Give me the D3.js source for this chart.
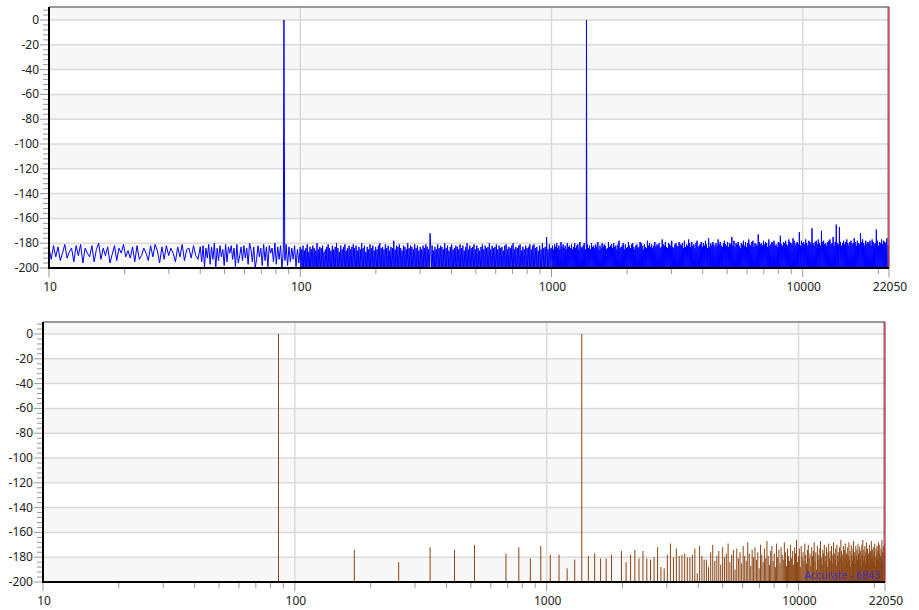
<!DOCTYPE html>
<html>
<head>
<meta charset="utf-8">
<script src="https://cdn.jsdelivr.net/npm/d3@7"></script>
<style>
  body { margin: 0; background: #fff; }
  svg { display: block; font-family: "Noto Sans", "Open Sans", sans-serif; }
</style>
</head>
<body>
<svg id="chart" width="919" height="610"></svg>
<script>
// ---- data ----
const yTickValues = [0, -20, -40, -60, -80, -100, -120, -140, -160, -180, -200];
const xTickLabels = [10, 100, 1000, 10000, 22050];
const freqRange = [10, 22050];

// the two test tones (Hz, dB)
const toneFreqs = [86.13, 1378.1];
const toneDb = [0, 0];

// noise floor of the top spectrum, one char per point, dB = -210 + index in levelChars
const levelChars = "0123456789abcdefghijklmnopqrstuvwxyzABCDEFGHIJKLMNOPQRSTUVWXYZ";
const noiseSegments = [
  { from: 10, to: 40, levels: "qhsjrgmtinqfskteqmjsfpuhqkrelsgqmtjoirfshkqmgsjtoerhskqmfrjtgpqiskh" },
  { from: 40, to: 100, levels: "rfsbqitdrhuaqgsjpctfrmshqbtekrgsiqdupfrahsjqctgrbsmqfudrhsaqitcrfqhsbpe" },
  { from: 100, to: 1000, levels:
    "r8p5s9o3q7t6n4r9p2s8q5o7u3p6r4q9s2n8p5r7" +
    "t3q6o9s4p7r2u8q5n3s6p9r4t7o2q8s5p3r6t9q4" +
    "s7o5r2p8u4q6s3n9r5p7t2q4s8o6r3p9s5u7q2r6" +
    "p4t8q3s6o9r5q7w2p4s8r3t6q9o5s2r7p4u8q6s3" +
    "r9p5t2q7s4o8r3p6s9q2t5r7p3Cq8s4o6r2p9t5q" +
    "7s3r6p8u2q4s9o5r7t3p6q8s2r5p9t4q7s3o6r8u" +
    "2p5s9q4r7t3p8s6q2o5r9t7p3s4q8r6u2p5s9q3r" +
    "7t4p6s2q8r5o9s3t7p4r6q2s8u5p9r3q7s4t6o2r" +
    "8p5s3q9r4t6p2s7t5q8r3o6s9p4u7q2r5z8p3t6q" },
  { from: 1000, to: 22050, levels:
    "q5s8p3t6r9u2q7s4p8v3r6t2q9s5p7u4r3s8q6t2" +
    "p9r5u7q3s6t8p2v5r4q9s7u3p6r8t2q5s9p4u7r3" +
    "s6q8t2r5v9p3s7q4u6r2t8s5p9q3v6r7s2t4q8u5" +
    "r3s9p6t2w7q4r8s5u3p9t6q2r7v4s8q5t3u9r6p2" +
    "s7t4q9r3v5u8s2p6t9r4q7w3s5u8r2t6q9s4v7r3" +
    "t5s8u2q6r9x4t3s7v5r8q2u6t9s4w3r7q5t8u2s6" +
    "r9v4t3s7u6q8w2r5t9s4x7u3r6v8s2t5q9u4w7r3" +
    "s6t8v2r5u9s3w7t4q6y8r2u5s9v3t7r4u6s8x2t5" +
    "v9s3r7u4w6t2s8v5r9u3t6z4s7w2r5u8t3v9s6q4" +
    "u7t2w5s8v3r6u9x4t7s2v6w8r3u5t9s4B7v2t6u3" +
    "s8w5t9v2u6r4x8s3t7v5u2w9s6t4r8v3u7A5t2s9" +
    "v6u3w8t5s9x2v7u4t6y3w9s5u8v2t4D7s6w3u9v5" +
    "t2x8u6s4w9v3t7G5u2s8v6w4t9x3u7s5E2v8w6t3" +
    "u9s5v7w2x4t8u6z3s9v5J7u2t4H6v8s3u5w9t7v2" +
    "x6u4s8v3w9t5u2y7v4s6w8u3t9C5v2x7u4s8w6t3" +
    "v9u5w2s7x4v8t3u6F9w5s2v7u4x8t6w3v9u5y2s7" }
];

// bottom spectrum: level of each harmonic of the base tone, n = 1..256 (null = below floor)
const harmonicBase = 86.13;
const harmonicDb = [
  0, -174, -184, -172, -174, -170, null, -177, -172, -181,
  -171, -178, -178, -189, -182, 0, -179, -177, -181, -181,
  -178, null, -175, -184, -178, -174, -181, -175, -181, -182,
  -180, -172, -188, -189, -178, -169, -180, -173, -179, -178,
  -177, -180, -180, -178, -173, -193, -171, -179, -182,
  -182, -188, -176, -170, -183, -179, -175, -186, -172, -180,
  -177, -169, -184, -178, -174, -190, -173, -181, -176, -185,
  -171, -179, -183, -168, -177, -187, -174, -180, -172, -182,
  -176, -189, -170, -178, -184, -173, -181, -167, -179, -186,
  -175, -171, -183, -177, -188, -169, -180, -174, -185, -172,
  -178, -182, -168, -176, -187, -173, -179, -183, -170, -181,
  -175, -186, -172, -177, -166, -184, -179, -173, -188, -171,
  -180, -176, -183, -169, -178, -185, -174, -170, -181, -177,
  -187, -172, -179, -175, -168, -183, -176, -190, -171, -178,
  -182, -173, -167, -180, -186, -174, -177, -170, -184, -179,
  -172, -188, -176, -169, -181, -175, -183, -171, -178, -185,
  -168, -177, -182, -173, -187, -170, -179, -176, -184, -172,
  -180, -166, -175, -183, -178, -171, -186, -174, -169, -181,
  -177, -184, -172, -179, -168, -182, -175, -188, -170, -178,
  -183, -173, -167, -180, -176, -185, -171, -179, -174, -182,
  -169, -177, -184, -172, -181, -175, -187, -170, -178, -166,
  -183, -174, -179, -171, -185, -176, -168, -182, -173, -180,
  -177, -186, -170, -178, -175, -183, -167, -181, -174, -179,
  -172, -184, -176, -169, -180, -187, -173, -178, -171, -182,
  -175, -168, -183, -177, -170, -185, -179, -173, -181, -166,
  -176, -184, -171, -178, -174, -169, -180
];
const statusText = "Accurate - 6843";

// ---- build the top series ----
let topSeries = [];
noiseSegments.forEach(seg => {
  const n = seg.levels.length;
  const fAt = d3.scaleLinear().domain([0, n]).range([Math.log10(seg.from), Math.log10(seg.to)]);
  for (let i = 0; i < n; i++) {
    topSeries.push({ f: Math.pow(10, fAt(i)), db: -210 + levelChars.indexOf(seg.levels[i]) });
  }
});
toneFreqs.forEach((f, i) => {
  topSeries.push({ f: f - 0.01 * f, db: -192 });
  topSeries.push({ f: f, db: toneDb[i] });
  topSeries.push({ f: f + 0.01 * f, db: -194 });
});
topSeries.sort((a, b) => a.f - b.f);

const bars = harmonicDb
  .map((db, i) => ({ f: harmonicBase * (i + 1), db: db }))
  .filter(d => d.db !== null && d.f <= 22050);

const svg = d3.select("#chart");

function drawPanel(box, id) {
  const g = svg.append("g");
  const x = d3.scaleLog().domain(freqRange).range([box.left, box.right]);
  const y = d3.scaleLinear().domain([-200, box.yMax]).range([box.bottom, box.top]);

  // interlaced background bands
  const bandEdges = [box.yMax].concat(yTickValues);
  for (let i = 0; i < bandEdges.length - 1; i++) {
    g.append("rect")
      .attr("x", box.left).attr("width", box.right - box.left)
      .attr("y", y(bandEdges[i])).attr("height", y(bandEdges[i + 1]) - y(bandEdges[i]))
      .attr("fill", i % 2 === 0 ? "#f7f7f7" : "#ffffff");
  }

  // grid
  g.selectAll(".hgrid").data(yTickValues.slice(0, -1)).enter().append("line")
    .attr("x1", box.left).attr("x2", box.right)
    .attr("y1", d => y(d)).attr("y2", d => y(d))
    .attr("stroke", "#dadada").attr("stroke-width", 1.5);
  g.selectAll(".vgrid").data([100, 1000, 10000]).enter().append("line")
    .attr("x1", d => x(d)).attr("x2", d => x(d))
    .attr("y1", box.top).attr("y2", box.bottom)
    .attr("stroke", "#dadada").attr("stroke-width", 1.5);

  svg.append("clipPath").attr("id", "clip" + id).append("rect")
    .attr("x", box.left).attr("y", box.top)
    .attr("width", box.right - box.left).attr("height", box.bottom - box.top);

  // y ticks, minor every 4 dB
  const minorY = d3.range(-200, box.yMax, 4);
  g.selectAll(".ytick").data(minorY).enter().append("line")
    .attr("x1", d => box.left - (d % 20 === 0 ? 9 : 6)).attr("x2", box.left)
    .attr("y1", d => y(d)).attr("y2", d => y(d))
    .attr("stroke", "#999").attr("stroke-width", 1);
  g.selectAll(".ylab").data(yTickValues).enter().append("text")
    .attr("x", box.left - 10).attr("y", d => y(d) + 4)
    .attr("text-anchor", "end").attr("font-size", 12).attr("fill", "#222")
    .text(d => d);

  // x ticks at 1..9 per decade
  const minorX = [];
  [10, 100, 1000, 10000].forEach(dec => {
    for (let k = 1; k < 10; k++) if (dec * k <= 22050) minorX.push(dec * k);
  });
  minorX.push(22050);
  g.selectAll(".xtick").data(minorX).enter().append("line")
    .attr("x1", d => x(d)).attr("x2", d => x(d))
    .attr("y1", box.bottom).attr("y2", d => box.bottom + ([10, 100, 1000, 10000, 22050].includes(d) ? 9 : 6))
    .attr("stroke", "#999").attr("stroke-width", 1);
  g.selectAll(".xlab").data(xTickLabels).enter().append("text")
    .attr("x", d => x(d) + 1).attr("y", box.bottom + 23)
    .attr("text-anchor", "middle").attr("font-size", 12).attr("fill", "#222")
    .text(d => d);

  return { g, x, y, clip: "url(#clip" + id + ")" };
}

function drawFrame(p, box) {
  p.g.append("line").attr("x1", box.left).attr("x2", box.right)
    .attr("y1", box.top).attr("y2", box.top)
    .attr("stroke", "#7a7a7a").attr("stroke-width", 1.5);
  p.g.append("line").attr("x1", box.right - 1).attr("x2", box.right - 1)
    .attr("y1", box.top).attr("y2", box.bottom)
    .attr("stroke", "#6a6a6a").attr("stroke-width", 1);
  p.g.append("line").attr("x1", box.right).attr("x2", box.right)
    .attr("y1", box.top).attr("y2", box.bottom)
    .attr("stroke", "#c0203a").attr("stroke-width", 1.2);
  p.g.append("line").attr("x1", box.left).attr("x2", box.left)
    .attr("y1", box.top).attr("y2", box.bottom + 1)
    .attr("stroke", "#000").attr("stroke-width", 2);
  p.g.append("line").attr("x1", box.left).attr("x2", box.right)
    .attr("y1", box.bottom).attr("y2", box.bottom)
    .attr("stroke", "#000").attr("stroke-width", 2);
}

// ---- top panel: blue spectrum line ----
const topBox = { left: 49, right: 889, top: 7, bottom: 268, yMax: 10.5 };
const topPanel = drawPanel(topBox, "Top");
const line = d3.line()
  .x(d => topPanel.x(d.f))
  .y(d => topPanel.y(Math.max(d.db, -203)));
topPanel.g.append("path")
  .datum(topSeries)
  .attr("clip-path", topPanel.clip)
  .attr("fill", "none")
  .attr("stroke", "#0000ff")
  .attr("stroke-width", 1)
  .attr("d", line);
drawFrame(topPanel, topBox);

// ---- bottom panel: brown harmonic bars ----
const botBox = { left: 43, right: 885, top: 322, bottom: 582, yMax: 9.7 };
const botPanel = drawPanel(botBox, "Bot");
botPanel.g.append("g").attr("clip-path", botPanel.clip)
  .selectAll("line").data(bars).enter().append("line")
  .attr("x1", d => botPanel.x(d.f)).attr("x2", d => botPanel.x(d.f))
  .attr("y1", botBox.bottom).attr("y2", d => botPanel.y(d.db))
  .attr("stroke", "#8b4513").attr("stroke-width", 1);
botPanel.g.append("text")
  .attr("x", botBox.right - 5).attr("y", botBox.bottom - 3)
  .attr("text-anchor", "end").attr("font-size", 10.5).attr("fill", "#3b30c8")
  .text(statusText);
drawFrame(botPanel, botBox);
</script>
</body>
</html>
